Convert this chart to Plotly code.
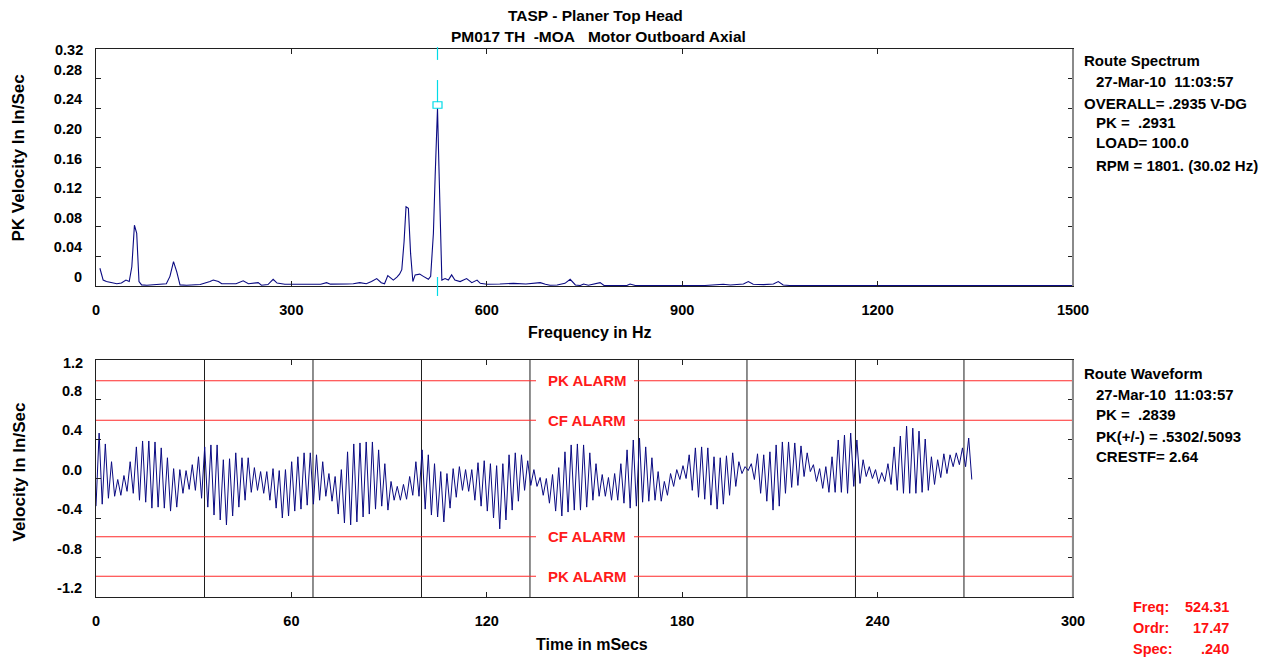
import numpy as np
import plotly.graph_objects as go

FONT = "Liberation Sans, Arial, sans-serif"

# ---------------- route spectrum (PK velocity, in/s) ----------------
spec_freq = [6, 11, 16, 24, 32, 39, 46, 51, 55, 59, 62.5, 66, 70, 78, 88, 108,
             113.5, 119, 124, 129, 139, 160, 175, 180, 188, 193, 215, 226, 234,
             249, 254, 264, 272, 278, 290, 345, 354, 360, 385, 395, 405, 415,
             423, 431, 438, 443, 448, 452, 456.5, 462, 466, 469.5, 473, 476,
             479.6, 483, 486.5, 490, 497, 502.6, 510.3, 513.8, 518, 520.7,
             524.31, 526.5, 528.5, 531, 536, 541, 546, 551, 559, 569, 577, 585,
             590, 600, 620, 641, 660, 682, 690, 697, 708, 720, 728, 736, 743.5,
             748.6, 756, 774, 780, 815, 820, 828, 935, 940, 948, 956, 963, 974,
             984, 994, 1001.5, 1009, 1025, 1040, 1047.5, 1055, 1065, 1500]
spec_amp = [0.024, 0.008, 0.006, 0.005, 0.003, 0.004, 0.008, 0.006, 0.026, 0.082,
            0.071, 0.006, 0.0015, 0.001, 0.002, 0.003, 0.013, 0.033, 0.019,
            0.0015, 0.001, 0.002, 0.006, 0.008, 0.006, 0.003, 0.003, 0.007, 0.003,
            0.0045, 0.001, 0.002, 0.009, 0.004, 0.0023, 0.0023, 0.0045, 0.0025,
            0.0028, 0.003, 0.0045, 0.003, 0.006, 0.010, 0.0045, 0.003, 0.014,
            0.011, 0.008, 0.012, 0.016, 0.022, 0.060, 0.107, 0.105, 0.044, 0.006,
            0.015, 0.016, 0.013, 0.009, 0.013, 0.071, 0.148, 0.240, 0.161, 0.071,
            0.008, 0.010, 0.008, 0.015, 0.008, 0.006, 0.010, 0.0045, 0.008,
            0.0036, 0.0023, 0.0027, 0.0036, 0.0027, 0.0045, 0.0023, 0.001, 0.0014,
            0.0036, 0.009, 0.0014, 0.0007, 0.0027, 0.001, 0.0045, 0.0007, 0.0007,
            0.0027, 0.0007, 0.0007, 0.001, 0.0014, 0.001, 0.0023, 0.0014, 0.0023,
            0.0027, 0.006, 0.0023, 0.0018, 0.0027, 0.006, 0.0014, 0.0007, 0.0007]

# ---------------- route waveform (velocity, in/s) ----------------
# first sample, then the crest and trough of each cycle of the 524 Hz carrier
wave_start = -0.28
wave_peaks = [
    0.46, 0.35, 0.17, -0.01, 0.03, 0.17, 0.32, 0.38, 0.38, 0.37,
    0.31, 0.21, 0.10, 0.09, 0.08, 0.14, 0.22, 0.32, 0.34, 0.34,
    0.19, 0.20, 0.26, 0.21, 0.21, 0.11, 0.07, 0.07, 0.10, 0.08,
    0.09, 0.17, 0.22, 0.26, 0.26, 0.24, 0.17, 0.05, 0.02, 0.09,
    0.27, 0.35, 0.36, 0.37, 0.37, 0.29, 0.15, -0.03, -0.08, -0.06,
    0.02, 0.17, 0.29, 0.24, 0.15, 0.07, 0.05, 0.10, 0.12, 0.09,
    0.09, 0.16, 0.18, 0.15, 0.13, 0.15, 0.24, 0.26, 0.24, 0.18,
    0.09, 0.01, 0.00, 0.04, 0.11, 0.27, 0.34, 0.35, 0.34, 0.26,
    0.15, 0.04, 0.01, 0.05, 0.15, 0.29, 0.39, 0.41, 0.32, 0.21,
    0.07, -0.03, 0.05, 0.09, 0.13, 0.24, 0.31, 0.32, 0.31, 0.22,
    0.21, 0.23, 0.26, 0.17, 0.12, 0.15, 0.25, 0.24, 0.27, 0.34,
    0.37, 0.37, 0.36, 0.33, 0.26, 0.14, 0.10, 0.12, 0.22, 0.39,
    0.44, 0.46, 0.39, 0.19, 0.12, 0.09, 0.06, 0.15, 0.32, 0.43,
    0.53, 0.51, 0.48, 0.40, 0.22, 0.19, 0.25, 0.24, 0.26, 0.31,
    0.41]
wave_troughs = [
    -0.26, -0.20, -0.18, -0.17, -0.13, -0.15, -0.22, -0.24, -0.30, -0.29,
    -0.30, -0.33, -0.29, -0.15, -0.11, -0.12, -0.20, -0.29, -0.37, -0.42,
    -0.47, -0.38, -0.29, -0.22, -0.14, -0.12, -0.15, -0.22, -0.30, -0.40,
    -0.38, -0.33, -0.31, -0.27, -0.26, -0.22, -0.18, -0.23, -0.36, -0.45,
    -0.47, -0.44, -0.39, -0.36, -0.31, -0.28, -0.32, -0.22, -0.22, -0.21,
    -0.17, -0.18, -0.31, -0.37, -0.39, -0.44, -0.30, -0.19, -0.12, -0.13,
    -0.22, -0.28, -0.33, -0.40, -0.51, -0.42, -0.32, -0.23, -0.12, -0.07,
    -0.08, -0.17, -0.25, -0.33, -0.38, -0.34, -0.32, -0.32, -0.29, -0.22,
    -0.18, -0.18, -0.22, -0.22, -0.25, -0.30, -0.28, -0.24, -0.23, -0.22,
    -0.23, -0.17, -0.08, -0.01, 0.00, -0.12, -0.19, -0.21, -0.27, -0.31,
    -0.26, -0.17, -0.08, 0.05, 0.08, -0.01, -0.15, -0.23, -0.32, -0.28,
    -0.15, -0.09, -0.07, 0.02, 0.07, -0.03, -0.10, -0.14, -0.14, -0.14,
    -0.15, -0.08, -0.05, 0.02, 0.00, -0.05, -0.03, -0.06, -0.12, -0.15,
    -0.15, -0.15, -0.14, -0.12, -0.06, 0.01, 0.05, 0.12, 0.14, 0.12,
    -0.01]

# cursor / machine data
cursor_freq = 524.31      # Hz
cursor_amp = 0.240        # in/s
rpm = 1801
run_hz = 30.02
pk_alarm = 0.99
cf_alarm = 0.59

# axis ticks
x1_ticks = [0, 300, 600, 900, 1200, 1500]
y1_ticks = [0, 0.04, 0.08, 0.12, 0.16, 0.20, 0.24, 0.28, 0.32]
y1_labels = ["0", "0.04", "0.08", "0.12", "0.16", "0.20", "0.24", "0.28", "0.32"]
x2_ticks = [0, 60, 120, 180, 240, 300]
y2_ticks = [-1.2, -0.8, -0.4, 0.0, 0.4, 0.8, 1.2]
y2_labels = ["-1.2", "-0.8", "-0.4", "0.0", "0.4", "0.8", "1.2"]

# ---------------- page geometry (pixels) ----------------
W, H = 1270, 661
ML, MR, MT, MB = 96, 197, 49, 64
PW, PH = W - ML - MR, H - MT - MB
TOP_DOM = [(H - MB - 286) / PH, 1.0]
BOT_DOM = [0.0, (H - MB - 360) / PH]


def px_x(x):
    return (x - ML) / PW


def px_y(y):
    return (H - MB - y) / PH


# waveform sample times: crests and troughs spaced half a carrier period apart
wave_vals = [wave_start]
for p, t in zip(wave_peaks, wave_troughs):
    wave_vals += [p, t]
half_period_ms = 1000.0 / (2 * cursor_freq)
wave_t = np.arange(len(wave_vals)) * half_period_ms

NAVY = "#0a0a82"
fig = go.Figure()
fig.add_trace(go.Scatter(x=spec_freq, y=spec_amp, mode="lines",
                         line=dict(color=NAVY, width=1.1),
                         xaxis="x", yaxis="y", showlegend=False, hoverinfo="skip"))
fig.add_trace(go.Scatter(x=wave_t, y=wave_vals, mode="lines",
                         line=dict(color=NAVY, width=1),
                         xaxis="x2", yaxis="y2", showlegend=False, hoverinfo="skip"))

tickfont = dict(family=FONT, size=14.5, color="black", weight="bold")
axis_common = dict(showline=True, linecolor="#202020", linewidth=1, mirror="ticks",
                   ticks="inside", ticklen=5, tickwidth=1, tickcolor="#202020",
                   showgrid=False, zeroline=False, tickfont=tickfont, fixedrange=True)

fig.update_layout(
    width=W, height=H,
    margin=dict(l=ML, r=MR, t=MT, b=MB, pad=0),
    paper_bgcolor="white", plot_bgcolor="white",
    font=dict(family=FONT, color="black"),
    xaxis=dict(axis_common, domain=[0, 1], range=[0, 1500], anchor="y",
               tickvals=x1_ticks, ticklabelstandoff=11),
    yaxis=dict(axis_common, domain=TOP_DOM, range=[0, 0.32], anchor="x",
               tickvals=y1_ticks, ticktext=y1_labels[:-1] + [""],
               ticklabelshift=-9, ticklabelstandoff=10),
    xaxis2=dict(axis_common, domain=[0, 1], range=[0, 300], anchor="y2",
                tickvals=x2_ticks, ticklabelstandoff=11),
    yaxis2=dict(axis_common, domain=BOT_DOM, range=[-1.2, 1.2], anchor="x2",
                tickvals=y2_ticks, ticktext=y2_labels[:-1] + [""],
                ticklabelshift=-9, ticklabelstandoff=10),
)

shapes = []
# right-hand frame edges in grey
for xr, yr in (("x domain", "y domain"), ("x2 domain", "y2 domain")):
    shapes.append(dict(type="line", xref=xr, yref=yr, x0=1, x1=1, y0=0, y1=1,
                       line=dict(color="#8a8a8a", width=2)))

# spectrum cursor
CYAN = "#00dbe8"
for y0, y1 in ((1.008, 0.954), (0.869, 0.776), (0.038, -0.042)):
    shapes.append(dict(type="line", xref="x", yref="y domain",
                       x0=cursor_freq, x1=cursor_freq, y0=y0, y1=y1,
                       line=dict(color=CYAN, width=1.2)))
shapes.append(dict(type="rect", xref="x", yref="y", xsizemode="pixel", ysizemode="pixel",
                   xanchor=cursor_freq, yanchor=cursor_amp, x0=-4.5, x1=4.5, y0=0, y1=6.5,
                   line=dict(color=CYAN, width=1.2), fillcolor="rgba(0,0,0,0)"))

# once-per-revolution markers on the waveform
rev_ms = 60000.0 / rpm
for k in range(1, int(300 // rev_ms) + 1):
    shapes.append(dict(type="line", xref="x2", yref="y2 domain",
                       x0=k * rev_ms, x1=k * rev_ms, y0=0, y1=1, layer="below",
                       line=dict(color="#1e1e1e", width=1)))

# alarm limits, broken where the labels sit
gap_l, gap_r = px_x(536), px_x(634)
for lvl in (pk_alarm, cf_alarm, -cf_alarm, -pk_alarm):
    for a, b in ((0, gap_l), (gap_r, 1)):
        shapes.append(dict(type="line", xref="x2 domain", yref="y2",
                           x0=a, x1=b, y0=lvl, y1=lvl, layer="below",
                           line=dict(color="#ff2a2a", width=1.2)))

annotations = []


def note(text, x, y, size=15, color="black", xanchor="left", bold=True,
         xref="paper", yref="paper", angle=0):
    annotations.append(dict(text=text, x=x, y=y, xref=xref, yref=yref,
                            xanchor=xanchor, yanchor="middle", showarrow=False,
                            textangle=angle, borderpad=0,
                            font=dict(family=FONT, size=size, color=color,
                                      weight="bold" if bold else "normal")))


NB = "\u00a0"
# chart title
note("TASP - Planer Top Head", px_x(595), px_y(16), size=15.5, xanchor="center")
note(f"PM017 TH{NB*2}-MOA{NB*3}Motor Outboard Axial", px_x(598), px_y(37),
     size=15.5, xanchor="center")

# axis titles
note("Frequency in Hz", px_x(590), px_y(333), size=16, xanchor="center")
note("Time in mSecs", px_x(592), px_y(644), size=16, xanchor="center")
note("PK Velocity In In/Sec", px_x(18.5), px_y(158), size=17, xanchor="center", angle=-90)
note("Velocity In In/Sec", px_x(18.5), px_y(472), size=17, xanchor="center", angle=-90)

# top tick labels sit level with the frame
note(y1_labels[-1], px_x(84), px_y(50), size=14.5, xanchor="right")
note(y2_labels[-1], px_x(84), px_y(363), size=14.5, xanchor="right")

# alarm labels
for lvl, lab in ((pk_alarm, "PK ALARM"), (cf_alarm, "CF ALARM"),
                 (-cf_alarm, "CF ALARM"), (-pk_alarm, "PK ALARM")):
    note(lab, px_x(587), lvl, size=15, color="#ff1a1a", xanchor="center", yref="y2")

# spectrum header
spec_lines = [
    ("Route Spectrum", 1083, 61),
    (f"27-Mar-10{NB*2}11:03:57", 1095, 81.5),
    ("OVERALL= .2935 V-DG", 1083, 103),
    (f"PK{NB}={NB*2}.2931", 1095, 122),
    ("LOAD= 100.0", 1095, 142),
    (f"RPM = {rpm}. ({run_hz:.2f} Hz)", 1095, 165),
]
wave_lines = [
    ("Route Waveform", 1083, 373),
    (f"27-Mar-10{NB*2}11:03:57", 1095, 394),
    (f"PK{NB}={NB*2}.2839", 1095, 414),
    ("PK(+/-) = .5302/.5093", 1095, 436),
    ("CRESTF= 2.64", 1095, 456),
]
for txt, x, y in spec_lines + wave_lines:
    note(txt, px_x(x), px_y(y), size=15)

# cursor readout
RED = "#ff1010"
readout = [
    ("Freq:", f"{cursor_freq:.2f}", 607),
    ("Ordr:", f"{cursor_freq / run_hz:.2f}", 628),
    ("Spec:", f"{cursor_amp:.3f}".lstrip("0"), 649),
]
for lab, val, y in readout:
    note(lab, px_x(1132), px_y(y), size=14.5, color=RED)
    note(val, px_x(1230), px_y(y), size=14.5, color=RED, xanchor="right")

fig.update_layout(shapes=shapes, annotations=annotations)
fig.write_html("out.html", config=dict(displayModeBar=False))
